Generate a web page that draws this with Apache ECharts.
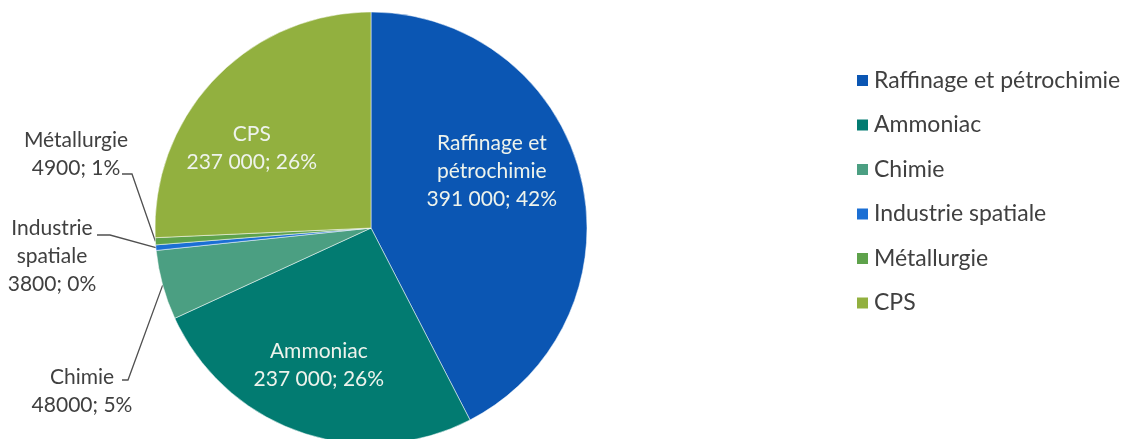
<!DOCTYPE html>
<html>
<head>
<meta charset="utf-8">
<script src="https://cdn.jsdelivr.net/npm/echarts@6/dist/echarts.min.js"></script>
<style>html,body{margin:0;padding:0;background:#fff}#c{width:1132px;height:439px}</style>
</head>
<body>
<div id="c"></div>
<script>
const categories = ['Raffinage et pétrochimie', 'Ammoniac', 'Chimie', 'Industrie spatiale', 'Métallurgie', 'CPS'];
const labelNames = ['Raffinage et\npétrochimie', 'Ammoniac', 'Chimie', 'Industrie\nspatiale', 'Métallurgie', 'CPS'];
const values = [391000, 237000, 48000, 3800, 4900, 237000];
const valueTexts = ['391 000', '237 000', '48000', '3800', '4900', '237 000'];
const colors = ['#0b56b3', '#027b71', '#4b9f82', '#1b6fd4', '#5ea24b', '#92b03f'];
const insideSet = [true, true, false, false, false, true];

const FONT = 'Lato, "Open Sans", sans-serif';
const total = values.reduce((a, b) => a + b, 0);

// label placement (layout only): inside labels are nudged, outside labels are placed
// lx: x offset (from label centre) where the leader line leaves the text, ly: y offset, ex: elbow offset
const labelPlace = [
  { dx: 13, dy: -31 },
  { dx: -16, dy: 32 },
  { x: 82, y: 391, lx: 40, ly: -11, ex: 46 },
  { x: 52, y: 256, lx: 45, ly: -21, ex: 58 },
  { x: 76, y: 154, lx: 46, ly: 20, ex: 56 },
  { dx: -39, dy: -3 }
];

const data = categories.map((c, i) => ({
  name: c,
  value: values[i],
  itemStyle: { color: colors[i] },
  label: insideSet[i]
    ? { position: 'inside', color: '#eef3ec' }
    : { position: 'outside', color: '#404040' },
  labelLine: { show: !insideSet[i], lineStyle: { color: '#505050', width: 1.3 }, length: 10, length2: 10 }
}));

const chart = echarts.init(document.getElementById('c'));
chart.setOption({
  animation: false,
  legend: {
    orient: 'vertical',
    left: 850,
    top: 64,
    itemWidth: 13,
    itemHeight: 13,
    itemGap: 21.5,
    icon: 'rect',
    data: categories,
    textStyle: { fontFamily: FONT, fontSize: 23, color: '#404040' }
  },
  series: [{
    type: 'pie',
    center: [371, 228],
    radius: 216,
    startAngle: 90,
    clockwise: true,
    avoidLabelOverlap: false,
    data: data,
    itemStyle: { borderColor: '#ffffff', borderWidth: 0.5 },
    label: {
      fontFamily: FONT,
      fontSize: 21,
      lineHeight: 28,
      align: 'center',
      formatter: p => labelNames[p.dataIndex] + '\n' + valueTexts[p.dataIndex] + '; ' + Math.round(p.value / total * 100) + '%'
    },
    labelLayout: function (p) {
      const lp = labelPlace[p.dataIndex];
      if (lp.x === undefined) {
        return { dx: lp.dx, dy: lp.dy };
      }
      const endX = lp.x + lp.lx;
      const endY = lp.y + lp.ly;
      const pts = p.labelLinePoints;
      const start = pts ? pts[0] : [0, 0];
      return {
        x: lp.x,
        y: lp.y,
        align: 'center',
        verticalAlign: 'middle',
        labelLinePoints: [start, [lp.x + lp.ex, endY], [endX, endY]]
      };
    }
  }]
});
</script>
</body>
</html>
